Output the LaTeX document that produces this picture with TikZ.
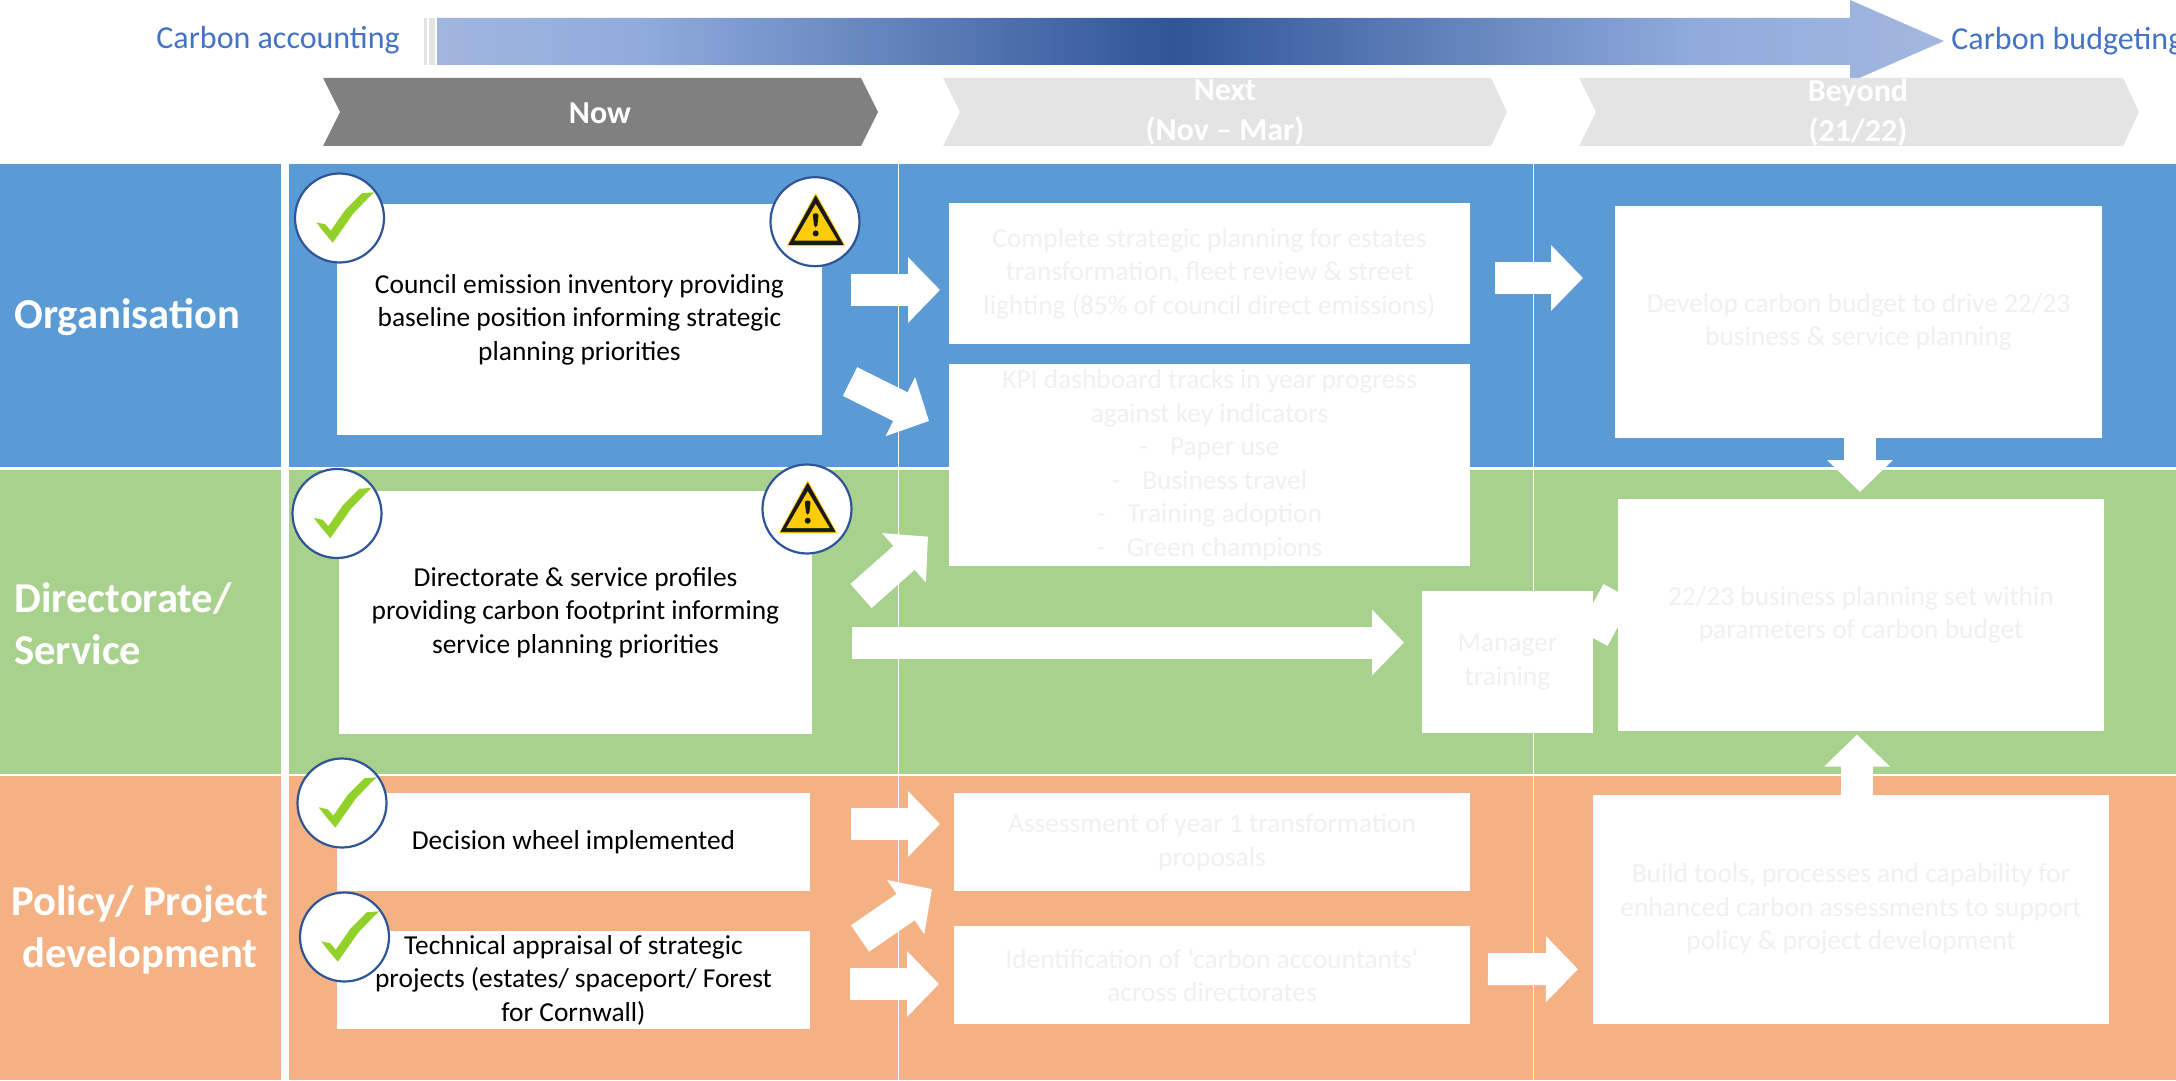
\documentclass[tikz,border=0pt]{standalone}
\usepackage{fontspec}
\setmainfont{Carlito}
\usetikzlibrary{calc,arrows.meta}

\definecolor{bandblue}{HTML}{5B9BD5}
\definecolor{bandgreen}{HTML}{A9D18E}
\definecolor{bandorange}{HTML}{F4B183}
\definecolor{headdark}{HTML}{808080}
\definecolor{headpale}{HTML}{E4E4E4}
\definecolor{fadedtext}{HTML}{F0F0F0}
\definecolor{scaletext}{HTML}{4472C4}
\definecolor{ringblue}{HTML}{2F5597}
\definecolor{tickgreen}{HTML}{92D12A}
\definecolor{signyellow}{HTML}{FFCC0A}
\definecolor{scaleend}{HTML}{E0E1E5}
\definecolor{scalemid}{HTML}{8FAADC}
\definecolor{scaledark}{HTML}{2F5597}

\pgfdeclarehorizontalshading{carbonscale}{100bp}{color(0bp)=(scaleend); color(32bp)=(scalemid); color(49.4bp)=(scaledark); color(66.6bp)=(scalemid); color(100bp)=(scaleend)}

\tikzset{
	card/.style={fill=white,inner sep=0pt,outer sep=0pt,align=center,text=black,font=\fontsize{13.7}{16.75}\selectfont},
	faded/.style={text=fadedtext},
	rowlabel/.style={text=white,inner sep=0pt,font=\bfseries\fontsize{21.3}{26}\selectfont},
	headlabel/.style={text=white,inner sep=0pt,align=center,font=\bfseries\fontsize{16}{20}\selectfont},
	scalelabel/.style={text=scaletext,inner sep=0pt,anchor=west,font=\fontsize{16}{20}\selectfont},
	roundel/.style={circle,draw=ringblue,line width=1.1pt,fill=white,minimum size=44.5pt,inner sep=0pt},
	blockarrow/.style={draw=white,line width=16pt,-{Triangle[length=16pt,width=32pt]}},
	tickmark/.pic={
		\fill[tickgreen] (-23.3,4.3) -- (-14.3,6.3) -- (-8.7,12.7) -- (5.7,-8) -- (22.3,-24.7) -- (34.7,-25.7) -- (29,-20.3) -- (14,-4.7) -- (-6.7,24.7) -- (-16,13.7) -- cycle;
	},
	warnsign/.pic={
		\fill[signyellow,draw=signyellow,line width=.6pt,line join=round] (.7,-27.7) -- (-27.3,23.7) -- (29.3,23.7) -- cycle;
		\fill[black!90,draw=black!90,line width=.4pt,line join=round] (.7,-25.7) -- (-26,22.7) -- (28,22.7) -- cycle;
		\fill[signyellow] (.7,-17.7) -- (-20.7,19) -- (22.7,19) -- cycle;
		\fill[black!90,rounded corners=1pt] (-2.3,-8.3) -- (3.7,-8.3) -- (2.2,5.7) -- (-.8,5.7) -- cycle;
		\fill[black!90] (.7,11.7) circle (3);
	}
}

% white card given by its corners in picture pixels
\newcommand{\card}[7][]{\node[card,#1,minimum width={(#4-#2)*.5pt},minimum height={(#5-#3)*.5pt}] (#6) at ({(#2+#4)/2},{(#3+#5)/2}) {#7};}
\newcommand{\dashline}[1]{-\hspace{11pt}#1}

\begin{document}
\begin{tikzpicture}[x=.5pt,y=-.5pt]
	\useasboundingbox (0,0) rectangle (2176,1081);

	% scale arrow along the top
	\fill[headpale] (424,18) rectangle (427,65);
	\fill[headpale] (429,18) rectangle (435,65);
	\shade[shading=carbonscale] (437,18) -- (1850,18) -- (1850,0) -- (1944,41) -- (1850,82) -- (1850,65) -- (437,65) -- cycle;
	\node[scalelabel] (carbonAccounting) at (156,40) {Carbon accounting};
	\node[scalelabel] (carbonBudgeting) at (1951,41) {Carbon budgeting};

	% chevrons
	\fill[headdark] (323,78) -- (861,78) -- (878,112) -- (861,146) -- (323,146) -- (340,112) -- cycle;
	\fill[headpale] (943,78) -- (1491,78) -- (1507,112) -- (1491,146) -- (943,146) -- (960,112) -- cycle;
	\fill[headpale] (1579,78) -- (2123,78) -- (2139,112) -- (2123,146) -- (1579,146) -- (1596,112) -- cycle;
	\node[headlabel] (headNow) at (600,113) {Now};
	\node[headlabel] (headNext) at (1225,113) {Next\\(Nov -- Mar)};
	\node[headlabel] (headBeyond) at (1858,113) {Beyond\\(21/22)};

	% bands
	\foreach \ya/\yb/\col in {164/467/bandblue,470/773.5/bandgreen,776/1080/bandorange}{
		\fill[\col] (0,\ya) rectangle (281,\yb);
		\fill[\col] (289,\ya) rectangle (2176,\yb);
	}
	\draw[white,line width=.5pt] (898,164) -- (898,1080);
	\draw[white,line width=.5pt] (1533,164) -- (1533,1080);
	\node[rowlabel,anchor=west] (rowOrganisation) at (14,317) {Organisation};
	\node[rowlabel,anchor=west,align=left] (rowDirectorate) at (14,624) {Directorate/\\Service};
	\node[rowlabel,align=center] (rowPolicy) at (140,930) {Policy/ Project\\development};

	% cards, now
	\card{337}{204}{822}{435}{boxCouncil}{Council emission inventory providing\\baseline position informing strategic\\planning priorities}
	\card{339}{491}{812}{734}{boxDirectorate}{Directorate \& service profiles\\providing carbon footprint informing\\service planning priorities}
	\card{337}{793}{810}{891}{boxDecision}{Decision wheel implemented}
	\card{337}{931}{810}{1029}{boxTechnical}{}
	% cards, next
	\card[faded]{949}{203}{1470}{344}{boxComplete}{Complete strategic planning for estates\\transformation, fleet review \& street\\lighting (85\% of council direct emissions)}
	\card[faded]{949}{364}{1470}{566}{boxKpi}{KPI dashboard tracks in year progress\\against key indicators\\\dashline{Paper use}\\\dashline{Business travel}\\\dashline{Training adoption}\\\dashline{Green champions}}
	\card[faded]{1422}{591}{1593}{733}{boxManager}{Manager\\training}
	\card[faded]{954}{793}{1470}{891}{boxAssessment}{Assessment of year 1 transformation\\proposals}
	\card[faded]{954}{926}{1470}{1024}{boxIdentification}{Identification of ‘carbon accountants’\\across directorates}
	% cards, beyond
	\card[faded]{1615}{206}{2102}{438}{boxDevelop}{Develop carbon budget to drive 22/23\\business \& service planning}
	\card[faded]{1618}{499}{2104}{731}{boxBusiness}{22/23 business planning set within\\parameters of carbon budget}
	\card[faded]{1593}{794.5}{2109}{1024}{boxBuild}{Build tools, processes and capability for\\enhanced carbon assessments to support\\policy \& project development}

	% block arrows
	\draw[blockarrow] ([shift={(29,-29.5)}]boxCouncil.east) -- ([shift={(-9,16.5)}]boxComplete.west);
	\draw[blockarrow] ([shift={(28,62)}]boxCouncil.east) -- ([shift={(-20,-44)}]boxKpi.west);
	\draw[blockarrow] ([shift={(49,-16.5)}]boxDirectorate.east) -- ([shift={(-21,71.6)}]boxKpi.west);
	\draw[blockarrow] ([shift={(40,30)}]boxDirectorate.east) -- ([shift={(-18,-19.5)}]boxManager.west);
	\draw[blockarrow] ([shift={(41,-18)}]boxDecision.east) -- ([shift={(-14,-18)}]boxAssessment.west);
	\draw[blockarrow] ([shift={(50,-41.5)}]boxTechnical.east) -- ([shift={(-22,47)}]boxAssessment.west);
	\draw[blockarrow] ([shift={(40,4)}]boxTechnical.east) -- ([shift={(-15,9)}]boxIdentification.west);
	\draw[blockarrow] ([shift={(25,4.5)}]boxComplete.east) -- ([shift={(-32,-44)}]boxDevelop.west);
	\draw[blockarrow] ([shift={(18,-6)}]boxIdentification.east) -- ([shift={(-15,60)}]boxBuild.west);
	\draw[blockarrow] ([shift={(1.5,0)}]boxDevelop.south) -- ([shift={(-1,-7)}]boxBusiness.north);
	\draw[blockarrow] ([shift={(6,0)}]boxBuild.north) -- ([shift={(-4,3.6)}]boxBusiness.south);
	\draw[white,line width=16.5pt] ([yshift=12pt]boxManager.east) -- ([yshift=11.5pt]boxBusiness.west);

	% roundels
	\foreach \nm/\x/\y in {tickCouncil/339.5/218,tickDirectorate/337/513.5,tickDecision/342/803,tickTechnical/344.5/937}{
		\node[roundel] (\nm) at (\x,\y) {};
		\pic at (\nm) {tickmark};
	}
	\foreach \nm/\x/\y in {warnCouncil/815/221.7,warnDirectorate/807/509}{
		\node[roundel] (\nm) at (\x,\y) {};
		\pic at (\nm) {warnsign};
	}
	\node[card,fill=none] (textTechnical) at (boxTechnical.center) {Technical appraisal of strategic\\projects (estates/ spaceport/ Forest\\for Cornwall)};
\end{tikzpicture}
\end{document}
